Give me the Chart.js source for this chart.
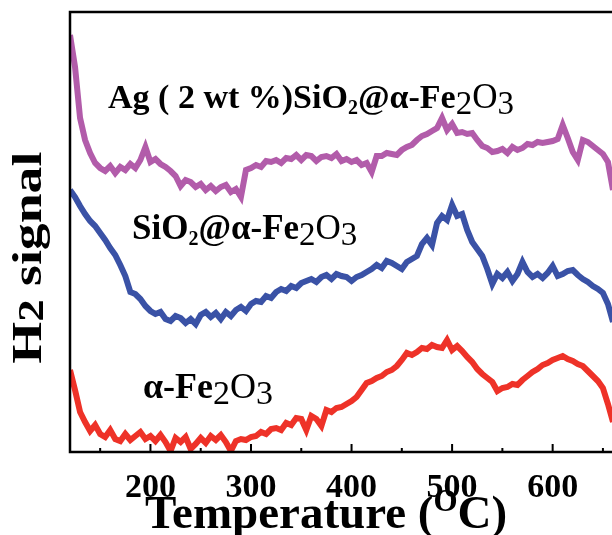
<!DOCTYPE html>
<html>
<head>
<meta charset="utf-8">
<script src="https://cdn.jsdelivr.net/npm/chart.js@4"></script>
<style>
  html, body { margin: 0; padding: 0; background: #fff; overflow: hidden; }
  #wrap { position: absolute; left: 0; top: 0; width: 640px; height: 535px; }
</style>
</head>
<body>
<div id="wrap"><canvas id="chart" width="640" height="535"></canvas></div>
<script>
// temperatures (oC), one reading every 5 degrees
var temps = [];
for (var t = 120; t <= 660; t += 5) temps.push(t);

// Ag (2 wt %) SiO2@a-Fe2O3
var agSignal = [
  417, 385, 334, 312, 299, 289, 284, 281, 286, 279, 285, 282, 288, 284, 292, 305,
  290, 293, 288, 285, 281, 276, 266, 272, 270, 265, 268, 262, 266, 261, 265, 267,
  260, 263, 255, 282, 284, 287, 285, 291, 290, 292, 289, 294, 293, 297, 292, 297,
  296, 291, 295, 296, 294, 298, 291, 293, 290, 292, 287, 289, 280, 296, 296, 299,
  298, 297, 302, 305, 307, 312, 316, 318, 321, 324, 334, 322, 328, 319, 320, 318,
  319, 312, 306, 304, 300, 301, 303, 299, 305, 302, 304, 308, 307, 310, 309, 310,
  311, 313, 327, 314, 300, 292, 312, 310, 306, 302, 298, 290, 262
];

// SiO2@a-Fe2O3
var sioSignal = [
  262, 255, 246, 238, 231, 226, 219, 212, 204, 197, 187, 176, 160, 158, 153, 146,
  141, 138, 140, 133, 131, 136, 134, 129, 133, 128, 137, 140, 135, 139, 133, 140,
  136, 142, 145, 141, 148, 151, 150, 156, 154, 160, 163, 161, 166, 164, 169, 171,
  173, 170, 175, 177, 173, 178, 176, 175, 171, 175, 177, 180, 183, 187, 184, 191,
  189, 186, 183, 190, 193, 196, 208, 214, 207, 229, 236, 232, 247, 236, 238, 222,
  210, 203, 196, 183, 168, 178, 174, 180, 171, 178, 190, 180, 175, 178, 174, 179,
  186, 176, 178, 181, 182, 177, 173, 170, 166, 163, 159, 148, 130
];

// a-Fe2O3
var feSignal = [
   82,  62,  40,  30,  21,  27,  18,  15,  22,  13,  11,  18,  12,  16,  20,  13,
   16,  11,  17,  10,   1,  14,  10,  15,   3,   8,  14,   9,  16,  12,  17,  10,
    1,  11,  13,  12,  15,  16,  20,  18,  23,  24,  22,  29,  27,  34,  33,  22,
   36,  33,  26,  42,  40,  44,  45,  48,  51,  55,  62,  69,  71,  74,  76,  80,
   82,  86,  92,  99,  97, 100, 104, 103, 107, 105, 104, 112, 102, 106, 101,  95,
   90,  83,  78,  74,  70,  61,  64,  65,  68,  67,  72,  76,  80,  83,  87,  89,
   92,  94,  96,  93,  91,  88,  86,  81,  76,  71,  64,  48,  30
];

var majorTicks = [200, 300, 400, 500, 600];
var minorTicks = [150, 250, 350, 450, 550, 650];

var colors = ["#b25caa", "#3a52a6", "#ee3228"];

function pts(vals) {
  var out = [];
  for (var i = 0; i < vals.length; i++) out.push({ x: temps[i], y: vals[i] });
  return out;
}

var SERIF = "'Liberation Serif', 'Times New Roman', serif";

// draw a row of text pieces: [text, size, bold, dy]
function richText(ctx, parts, x, y) {
  for (var i = 0; i < parts.length; i++) {
    var p = parts[i];
    ctx.font = (p[2] ? "bold " : "") + p[1] + "px " + SERIF;
    ctx.fillText(p[0], x, y + (p[3] || 0));
    x += ctx.measureText(p[0]).width;
  }
}

var decor = {
  id: "decor",
  afterDraw: function(chart) {
    var ctx = chart.ctx;
    var a = chart.chartArea;
    var xs = chart.scales.x;
    ctx.save();
    ctx.strokeStyle = "#000";
    ctx.fillStyle = "#000";

    // frame
    ctx.lineWidth = 2.5;
    ctx.strokeRect(a.left, a.top, a.right - a.left, a.bottom - a.top);

    // inward ticks
    ctx.lineWidth = 2;
    ctx.beginPath();
    for (var i = 0; i < majorTicks.length; i++) {
      var px = xs.getPixelForValue(majorTicks[i]);
      ctx.moveTo(px, a.bottom); ctx.lineTo(px, a.bottom - 8);
    }
    for (var j = 0; j < minorTicks.length; j++) {
      var mx = xs.getPixelForValue(minorTicks[j]);
      ctx.moveTo(mx, a.bottom); ctx.lineTo(mx, a.bottom - 4);
    }
    ctx.stroke();

    // tick labels
    ctx.textAlign = "center";
    ctx.textBaseline = "alphabetic";
    ctx.font = "bold 34px " + SERIF;
    for (var k = 0; k < majorTicks.length; k++) {
      ctx.fillText(String(majorTicks[k]), xs.getPixelForValue(majorTicks[k]), a.bottom + 45);
    }

    // x title
    ctx.textAlign = "left";
    richText(ctx, [["Temperature (", 47, true], ["O", 31, true, -17], ["C)", 47, true]], 145, 528);

    // y title
    ctx.save();
    ctx.translate(41, 260);
    ctx.rotate(-Math.PI / 2);
    ctx.scale(1.28, 1);
    richText(ctx, [["H", 42, true], ["2", 35, true, 2], [" signal", 42, true]], -81, 0);
    ctx.restore();

    // series labels
    richText(ctx, [["Ag ( 2 wt %)SiO", 34, true], ["2", 20, true, 6], ["@\u03b1-Fe", 34, true],
                   ["2", 33, false, 6], ["O", 35, false], ["3", 33, false, 6]], 108, 108);
    richText(ctx, [["SiO", 35, true], ["2", 20, true, 6], ["@\u03b1-Fe", 35, true],
                   ["2", 33, false, 6], ["O", 35, false], ["3", 33, false, 6]], 132, 239);
    richText(ctx, [["\u03b1-Fe", 36, true], ["2", 34, false, 6], ["O", 36, false], ["3", 34, false, 6]], 143, 398);

    ctx.restore();
  }
};

new Chart(document.getElementById("chart"), {
  type: "line",
  data: {
    datasets: [
      { label: "Ag (2 wt %)SiO2@a-Fe2O3", data: pts(agSignal), borderColor: colors[0] },
      { label: "SiO2@a-Fe2O3", data: pts(sioSignal), borderColor: colors[1] },
      { label: "a-Fe2O3", data: pts(feSignal), borderColor: colors[2] }
    ]
  },
  options: {
    responsive: false,
    animation: false,
    layout: { padding: { left: 70, top: 12, right: 24, bottom: 83 } },
    elements: {
      point: { radius: 0 },
      line: { borderWidth: 6, tension: 0, borderJoinStyle: "miter" }
    },
    plugins: { legend: { display: false }, tooltip: { enabled: false } },
    scales: {
      x: { type: "linear", min: 120, max: 663, display: false },
      y: { min: 0, max: 440, display: false }
    }
  },
  plugins: [decor]
});
</script>
</body>
</html>
